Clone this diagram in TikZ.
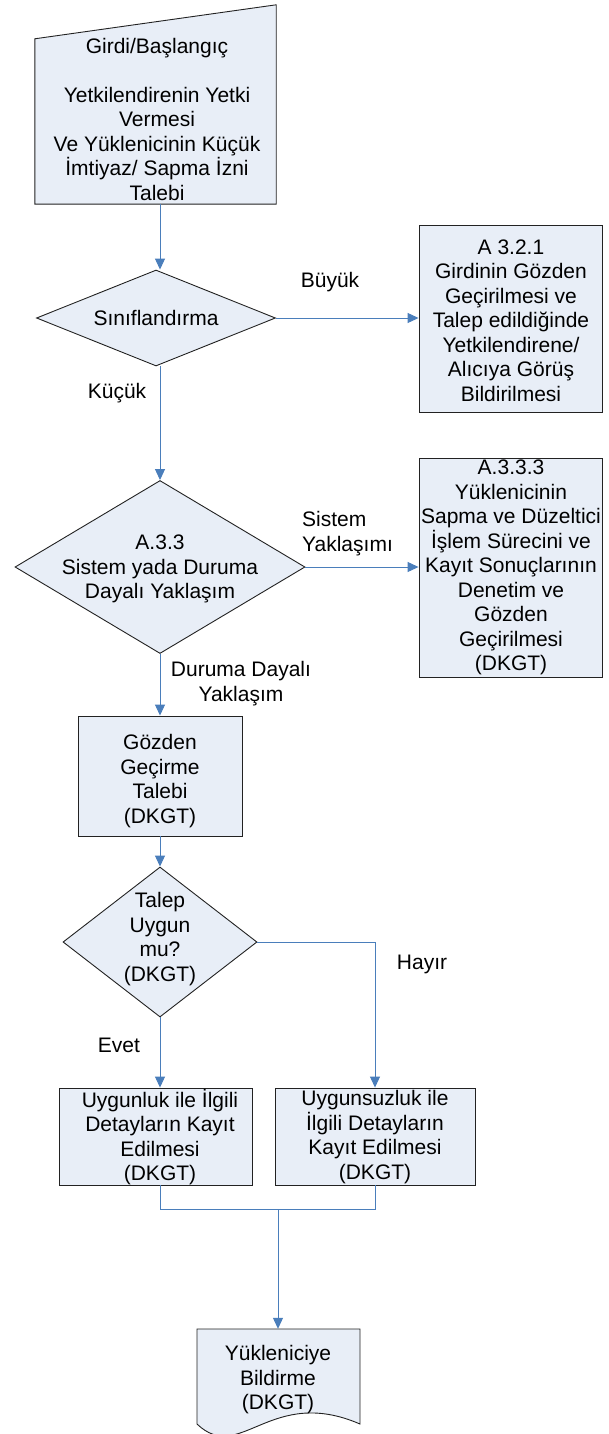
\documentclass[tikz,border=0pt]{standalone}
\usepackage{fontspec}
\setmainfont{Liberation Sans}
\usetikzlibrary{shapes.geometric,arrows.meta,calc}
\definecolor{lineblue}{HTML}{4A7EBB}
\definecolor{boxfill}{HTML}{E8EEF7}
\definecolor{edgecol}{HTML}{222222}
\begin{document}
\begin{tikzpicture}[x=1pt,y=-1pt,
  shp/.style={draw=edgecol, fill=boxfill, line width=0.9pt},
  boxn/.style={shp, rectangle, inner sep=0pt},
  dia/.style={shp, diamond, inner sep=0pt},
  txt/.style={font=\fontsize{21}{24.5}\selectfont, align=center, inner sep=0pt},
  flow/.style={draw=lineblue, line width=1pt, -{Triangle[length=11pt,width=10pt]}},
  link/.style={draw=lineblue, line width=1pt}]
\useasboundingbox (0,0) rectangle (608,1434);

% input (manual input shape)
\node[inner sep=0pt, minimum width=241pt, minimum height=199pt] (inp) at (155.5,104.5) {};
\path[shp] (inp.south west) -- (inp.south east) -- (inp.north east) -- ([yshift=-34pt]inp.north west) -- cycle;
\node[txt] (inpt) at (157,119) {Girdi/Başlangıç\\[24.5pt]Yetkilendirenin Yetki\\Vermesi\\Ve Yüklenicinin Küçük\\İmtiyaz/ Sapma İzni\\Talebi};

% decision 1
\node[dia, minimum width=239pt, minimum height=96pt] (d1) at (156,318) {};
\node[txt] (d1t) at (d1) {Sınıflandırma};

% box A 3.2.1
\node[boxn, minimum width=183pt, minimum height=187pt] (b321) at (510.5,318.5) {};
\node[txt] (b321t) at (511,320.5) {A 3.2.1\\Girdinin Gözden\\Geçirilmesi ve\\Talep edildiğinde\\Yetkilendirene/\\Alıcıya Görüş\\Bildirilmesi};

% decision 2
\node[dia, minimum width=290pt, minimum height=173pt] (d2) at (160,567) {};
\node[txt] (d2t) at (160,569) {A.3.3\\Sistem yada Duruma\\Dayalı Yaklaşım};

% box A.3.3.3
\node[boxn, minimum width=183pt, minimum height=219pt] (b333) at (510.5,567.5) {};
\node[txt] (b333t) at (511,567.5) {A.3.3.3\\Yüklenicinin\\Sapma ve Düzeltici\\İşlem Sürecini ve\\Kayıt Sonuçlarının\\Denetim ve\\Gözden\\Geçirilmesi\\(DKGT)};

% review request box
\node[boxn, minimum width=164pt, minimum height=120pt] (gz) at (160,776) {};
\node[txt] (gzt) at (160,781) {Gözden\\Geçirme\\Talebi\\(DKGT)};

% decision 3
\node[dia, minimum width=194pt, minimum height=150pt] (d3) at (160,942) {};
\node[txt] (d3t) at (160,939) {Talep\\Uygun\\mu?\\(DKGT)};

% result boxes
\node[boxn, minimum width=193pt, minimum height=97pt] (bL) at (155.5,1136.5) {};
\node[txt] (bLt) at (160,1137) {Uygunluk ile İlgili\\Detayların Kayıt\\Edilmesi\\(DKGT)};
\node[boxn, minimum width=200pt, minimum height=97pt] (bR) at (375,1136.5) {};
\node[txt] (bRt) at (375,1137) {Uygunsuzluk ile\\İlgili Detayların\\Kayıt Edilmesi\\(DKGT)};

% document
\node[inner sep=0pt, minimum width=163pt, minimum height=100pt] (doc) at (278.5,1379) {};
\path[shp] (197,1329) -- (360,1329) -- (360,1424) .. controls (270,1385) and (240,1465) .. (197,1424) -- cycle;
\node[txt] (doct) at (278,1380) {Yükleniciye\\Bildirme\\(DKGT)};

% labels
\node[txt] (lbuyuk) at (330,282) {Büyük};
\node[txt] (lkucuk) at (117,393) {Küçük};
\node[txt, anchor=west, align=left] (lsis) at (302,533.5) {Sistem\\Yaklaşımı};
\node[txt] (ldur) at (241,683.5) {Duruma Dayalı\\Yaklaşım};
\node[txt] (lhay) at (422,964) {Hayır};
\node[txt] (levet) at (119,1045) {Evet};

% connectors
\draw[flow] (inp.south -| d2.north) -- (d1.north -| d2.north);
\draw[flow] (d1.east) -- (d1.east -| b321.west);
\draw[flow] (d1.south -| d2.north) -- (d2.north);
\draw[flow] (d2.east) -- (d2.east -| b333.west);
\draw[flow] (d2.south) -- (gz.north);
\draw[flow] (gz.south) -- (d3.north);
\draw[flow] (d3.south) -- (d3.south |- bL.north);
\draw[flow] (d3.east) -| (bR.north);
\coordinate (m) at (278,1209);
\draw[link] (bL.south -| d3.south) |- (m);
\draw[link] (bR.south) |- (m);
\draw[flow] (m) -- (m |- doc.north);
\end{tikzpicture}
\end{document}
